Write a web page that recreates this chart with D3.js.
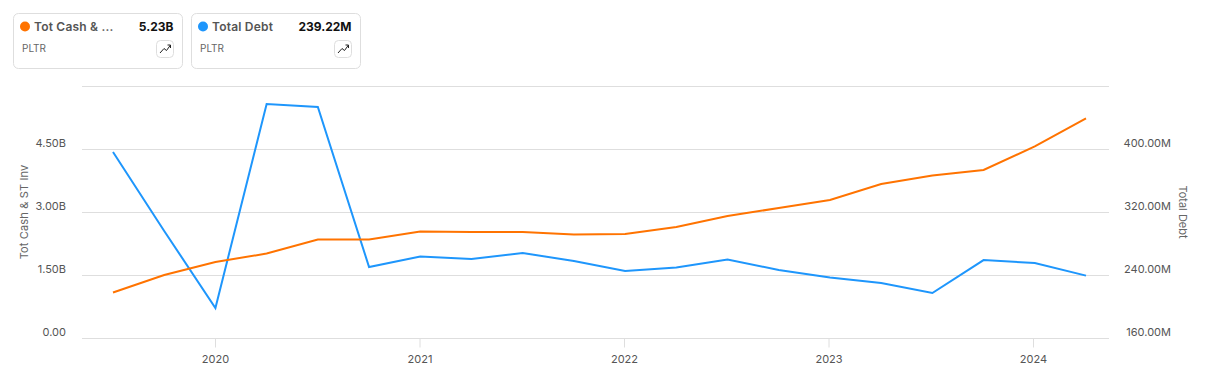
<!DOCTYPE html>
<html><head><meta charset="utf-8">
<script src="https://cdn.jsdelivr.net/npm/d3@7/dist/d3.min.js"></script>
<style>html,body{margin:0;padding:0;background:#fff}svg{display:block;font-family:Inter,sans-serif}</style>
</head><body><svg id="c" width="1208" height="388"></svg>
<script>
const dates=["2019-06-30","2019-09-30","2019-12-31","2020-03-31","2020-06-30","2020-09-30","2020-12-31","2021-03-31","2021-06-30","2021-09-30","2021-12-31","2022-03-31","2022-06-30","2022-09-30","2022-12-31","2023-03-31","2023-06-30","2023-09-30","2023-12-31","2024-03-31"];
const cashValues=[1.083,1.50,1.81,2.01,2.345,2.345,2.536,2.524,2.524,2.464,2.476,2.643,2.905,3.095,3.286,3.667,3.869,4.0,4.56,5.23];
const debtValues=[396.2,295.9,198.1,457.1,453.3,250.2,263.5,260.3,267.9,257.8,245.1,249.5,259.7,246.3,236.8,229.8,217.1,259,255.2,239.22];
const leftTicks=[0,1.5,3,4.5,6];
const rightTicks=[160,240,320,400,480];
const yearTicks=[2020,2021,2022,2023,2024];
const cards=[{name:"Tot Cash & ...",val:"5.23B",sym:"PLTR",color:"#ff7300"},{name:"Total Debt",val:"239.22M",sym:"PLTR",color:"#1e96fc"}];

const svg=d3.select("#c");
const x=d3.scalePoint().domain(dates).range([113,1086]);
const yL=d3.scaleLinear().domain([0,6]).range([338,86]);
const yR=d3.scaleLinear().domain([160,480]).range([338,86]);
const xYear=d3.scaleLinear().domain([2020,2024]).range([215,1033]);

svg.append("g").selectAll("line").data(leftTicks).join("line")
  .attr("x1",82).attr("x2",1109).attr("y1",d=>Math.round(yL(d))+.5).attr("y2",d=>Math.round(yL(d))+.5)
  .attr("stroke","#dedede");
const gx=svg.append("g").attr("transform","translate(0,338.5)")
  .call(d3.axisBottom(xYear).tickValues(yearTicks).tickFormat(d3.format("d")).tickSize(9).tickPadding(8));
gx.select(".domain").remove();
gx.selectAll("line").attr("stroke","#dedede");
gx.selectAll("text").attr("fill","#555").style("font-size","11px").style("font-family","Inter,sans-serif");
svg.append("g").selectAll("text").data(leftTicks.slice(0,4)).join("text")
  .attr("x",66).attr("y",d=>yL(d)-2).attr("text-anchor","end").attr("fill","#555").attr("font-size",11)
  .text(d=>d3.format(".2f")(d)+(d?"B":""));
svg.append("g").selectAll("text").data(rightTicks.slice(0,4)).join("text")
  .attr("x",1171).attr("y",d=>yR(d)-2).attr("text-anchor","end").attr("fill","#555").attr("font-size",11)
  .text(d=>d3.format(".2f")(d)+"M");
svg.append("text").attr("transform","translate(28,212) rotate(-90)").attr("text-anchor","middle").attr("fill","#666").attr("font-size",11).attr("letter-spacing",0.15).text("Tot Cash & ST Inv");
svg.append("text").attr("transform","translate(1179,212) rotate(90)").attr("text-anchor","middle").attr("fill","#666").attr("font-size",11).text("Total Debt");
const line=(y)=>d3.line().x((d,i)=>x(dates[i])).y(d=>y(d));
svg.append("path").datum(debtValues).attr("d",line(yR)).attr("fill","none").attr("stroke",cards[1].color).attr("stroke-width",2);
svg.append("path").datum(cashValues).attr("d",line(yL)).attr("fill","none").attr("stroke",cards[0].color).attr("stroke-width",2);
const cg=svg.append("g").selectAll("g").data(cards).join("g").attr("transform",(d,i)=>`translate(${13.5+178*i},13.5)`);
cg.append("rect").attr("width",169).attr("height",55).attr("rx",5).attr("fill","#fff").attr("stroke","#dedede");
cg.append("circle").attr("cx",11.5).attr("cy",13).attr("r",5).attr("fill",d=>d.color);
cg.append("text").attr("x",20.5).attr("y",17.5).attr("font-size",12).attr("font-weight",600).attr("letter-spacing",0.2).attr("fill","#555").text(d=>d.name);
cg.append("text").attr("x",160).attr("y",17.5).attr("text-anchor","end").attr("font-size",12).attr("font-weight",700).attr("fill","#111").text(d=>d.val);
cg.append("text").attr("x",8.5).attr("y",38.5).attr("font-size",10).attr("fill","#666").text(d=>d.sym);
cg.append("rect").attr("x",143).attr("y",27).attr("width",17).attr("height",17).attr("rx",4).attr("fill","#fff").attr("stroke","#dedede");
cg.append("path").attr("d","M146.5 39.5 L150.5 35 L153 37 L157 31.5 M154 31.5 H157 V34.5").attr("fill","none").attr("stroke","#222").attr("stroke-width",1);
</script></body></html>
